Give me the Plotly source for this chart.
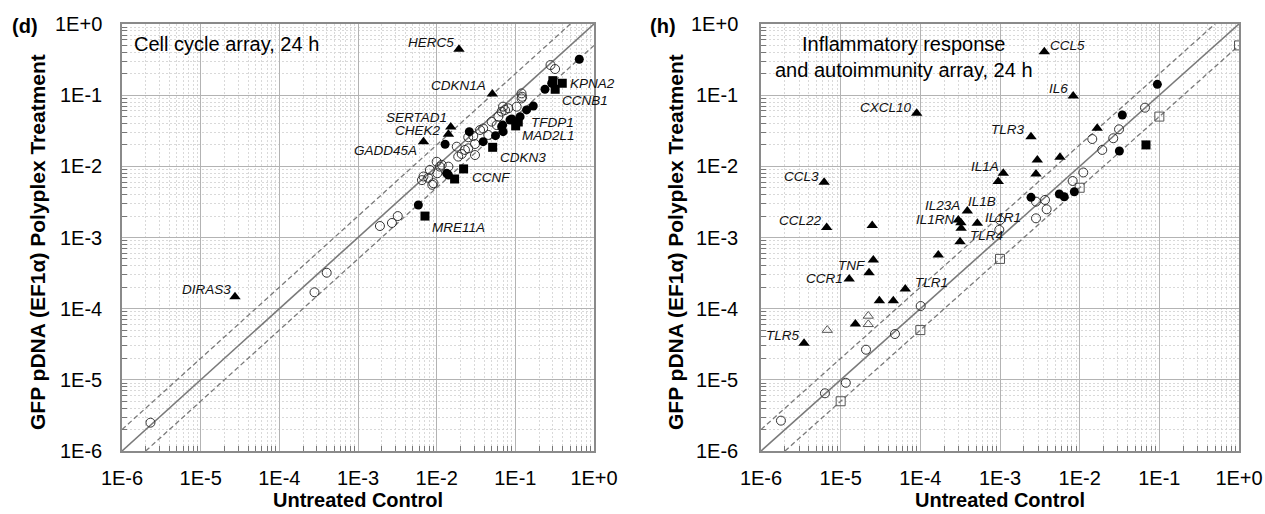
import numpy as np
import plotly.graph_objects as go

# ---------------- Panel (d): Cell cycle array, 24 h ----------------
D_OPEN_X = [2.3e-6, 2.8e-4, 4.0e-4, 1.9e-3, 2.7e-3, 3.2e-3, 6.5e-3, 6.8e-3, 7.8e-3, 8.2e-3,
            8.8e-3, 9.1e-3, 1.0e-2, 1.02e-2, 1.1e-2, 1.16e-2, 1.41e-2, 1.8e-2, 1.88e-2, 2.08e-2,
            2.29e-2, 2.52e-2, 2.52e-2, 2.92e-2, 3.07e-2, 3.07e-2, 3.56e-2, 3.9e-2, 4.53e-2, 5.0e-2,
            5.8e-2, 6.08e-2, 6.7e-2, 6.97e-2, 7.4e-2, 8.15e-2, 1.04e-1, 1.2e-1, 1.2e-1, 1.22e-1,
            2.8e-1, 3.2e-1]
D_OPEN_Y = [2.5e-6, 1.7e-4, 3.2e-4, 1.45e-3, 1.6e-3, 2.0e-3, 6.4e-3, 7.2e-3, 6.9e-3, 8.9e-3,
            5.5e-3, 5.8e-3, 1.16e-2, 8.0e-3, 9.9e-3, 1.05e-2, 9.9e-3, 1.89e-2, 1.37e-2, 1.49e-2,
            1.7e-2, 2.56e-2, 1.79e-2, 2.67e-2, 2.06e-2, 1.44e-2, 3.24e-2, 3.4e-2, 2.76e-2, 4.24e-2,
            3.8e-2, 4.99e-2, 5.86e-2, 6.9e-2, 6.19e-2, 6.54e-2, 6.89e-2, 1.06e-1, 9.0e-2, 9.5e-2,
            2.65e-1, 2.33e-1]

D_FILLED_X = [5.85e-3, 1.28e-2, 1.34e-2, 1.41e-2, 2.6e-2, 3.9e-2, 5.6e-2, 6.7e-2, 7.0e-2, 6.9e-2,
              8.55e-2, 9.0e-2, 1.15e-1, 1.39e-1, 1.69e-1, 2.38e-1, 2.9e-1, 6.5e-1]
D_FILLED_Y = [2.86e-3, 2.04e-2, 8.0e-3, 7.55e-3, 3.07e-2, 2.22e-2, 2.7e-2, 3.6e-2, 3.07e-2, 3.8e-2,
              4.48e-2, 4.63e-2, 4.99e-2, 6.2e-2, 7.05e-2, 1.21e-1, 1.47e-1, 3.2e-1]

D_SQ_X = [3.95e-1, 3.21e-1, 3.0e-1, 1.09e-1, 1.01e-1, 5.15e-2, 2.2e-2, 1.69e-2, 7.1e-3]
D_SQ_Y = [1.47e-1, 1.21e-1, 1.6e-1, 4.2e-2, 3.7e-2, 1.85e-2, 9.2e-3, 6.64e-3, 2.0e-3]
D_SQ_LABEL = ["KPNA2", "CCNB1", "", "TFDP1", "MAD2L1", "CDKN3", "CCNF", "", "MRE11A"]

D_TRI_X = [1.92e-2, 5.1e-2, 1.51e-2, 1.41e-2, 6.8e-3, 2.73e-5]
D_TRI_Y = [4.4e-1, 1.04e-1, 3.57e-2, 2.82e-2, 2.22e-2, 1.47e-4]
D_TRI_LABEL = ["HERC5", "CDKN1A", "SERTAD1", "CHEK2", "GADD45A", "DIRAS3"]

# ---------------- Panel (h): Inflammatory response and autoimmunity array, 24 h ----------------
H_OPEN_X = [1.78e-6, 6.35e-6, 1.16e-5, 2.08e-5, 4.8e-5, 1.01e-4, 1.0e-3, 9.8e-4, 2.83e-3, 3.67e-3,
            3.85e-3, 2.83e-3, 8.17e-3, 1.11e-2, 1.44e-2, 1.92e-2, 2.64e-2, 3.12e-2, 6.6e-2]
H_OPEN_Y = [2.67e-6, 6.47e-6, 9.1e-6, 2.65e-5, 4.4e-5, 1.09e-4, 1.76e-3, 1.28e-3, 3.19e-3, 3.37e-3,
            2.49e-3, 1.86e-3, 6.22e-3, 8.2e-3, 2.42e-2, 1.7e-2, 2.48e-2, 3.31e-2, 6.67e-2]

H_FILLED_X = [2.45e-3, 5.55e-3, 6.4e-3, 8.57e-3, 3.15e-2, 3.43e-2, 9.44e-2]
H_FILLED_Y = [3.67e-3, 4.08e-3, 3.74e-3, 4.4e-3, 1.64e-2, 5.26e-2, 1.42e-1]

H_SQ_X = [6.8e-2]
H_SQ_Y = [2.0e-2]

H_OSQ_X = [1e-5, 1e-4, 1e-3, 1e-2, 1e-1, 1.0]
H_OSQ_Y = [5e-6, 5e-5, 5e-4, 5e-3, 5e-2, 0.5]

H_TRI_X = [3.6e-3, 8.3e-3, 9.0e-5, 2.45e-3, 1.66e-2, 2.94e-3, 5.66e-3, 2.83e-3, 1.1e-3, 9.5e-4,
           6.2e-6, 6.67e-6, 2.49e-5, 3.89e-4, 3.23e-4, 3.0e-4, 3.25e-4, 5.19e-4, 3.15e-4, 1.68e-4,
           2.27e-5, 2.57e-5, 1.28e-5, 6.47e-5, 3.06e-5, 4.58e-5, 1.53e-5, 3.47e-6]
H_TRI_Y = [4.08e-1, 9.73e-2, 5.56e-2, 2.61e-2, 3.42e-2, 1.23e-2, 1.34e-2, 7.8e-3, 8.0e-3, 6.1e-3,
           5.97e-3, 1.38e-3, 1.47e-3, 2.36e-3, 1.61e-3, 1.76e-3, 1.35e-3, 1.58e-3, 8.7e-4, 5.68e-4,
           3.2e-4, 4.83e-4, 2.61e-4, 1.89e-4, 1.29e-4, 1.29e-4, 6.1e-5, 3.26e-5]
H_TRI_LABEL = ["CCL5", "IL6", "CXCL10", "TLR3", "", "", "", "", "IL1A", "",
               "CCL3", "CCL22", "", "IL1B", "IL23A", "IL1RN", "", "IL1R1", "TLR4", "",
               "TNF", "", "CCR1", "TLR1", "", "", "", "TLR5"]

H_OTRI_X = [6.79e-6, 2.22e-5, 2.22e-5]
H_OTRI_Y = [5.0e-5, 7.9e-5, 6.03e-5]

FOLD = 2.0
TICK_EXP = [-6, -5, -4, -3, -2, -1, 0]
TICK_TEXT = ["1E-6", "1E-5", "1E-4", "1E-3", "1E-2", "1E-1", "1E+0"]

# label placement: (anchor side, x shift px, y shift px)
LABEL_POS = {
    "HERC5": ("right", -3, 7), "CDKN1A": ("right", -4, 8), "SERTAD1": ("right", -2, 10),
    "CHEK2": ("right", -5, 4), "GADD45A": ("right", -4, -9), "DIRAS3": ("right", -2, 7),
    "KPNA2": ("left", 6, 0), "CCNB1": ("left", 5, -11), "TFDP1": ("left", 11, -1),
    "MAD2L1": ("left", 4, -10), "CDKN3": ("left", 5, -10), "CCNF": ("left", 6, -9),
    "MRE11A": ("left", 5, -11),
    "CCL5": ("left", 4, 6), "IL6": ("right", -3, 8), "CXCL10": ("right", -3, 6),
    "TLR3": ("right", -4, 7), "IL1A": ("right", -2, 7), "CCL3": ("right", -3, 6),
    "CCL22": ("right", -3, 7), "IL23A": ("right", 1, 17), "IL1RN": ("right", -1, 1),
    "IL1B": ("left", -1, 9), "IL1R1": ("left", 6, 6), "TLR4": ("left", 8, 6),
    "TNF": ("right", -2, 7), "CCR1": ("right", -4, 1), "TLR1": ("left", 8, 6),
    "TLR5": ("right", -2, 8),
}

FONT = "Liberation Sans, Arial, Helvetica, sans-serif"
W, H = 1265, 514
LINE_C = "#7a7a7a"


def px(x):
    return x / W


def py(y):
    return 1 - y / H


fig = go.Figure()


def add_panel(xa, ya, series, labels):
    lo, hi = 10.0 ** TICK_EXP[0], 10.0 ** TICK_EXP[-1]
    fig.add_trace(go.Scatter(x=[lo, hi], y=[lo, hi], mode="lines", xaxis=xa, yaxis=ya,
                             line=dict(color=LINE_C, width=1.6), hoverinfo="skip", showlegend=False))
    fig.add_trace(go.Scatter(x=[lo, hi / FOLD], y=[lo * FOLD, hi], mode="lines", xaxis=xa, yaxis=ya,
                             line=dict(color=LINE_C, width=1.3, dash="5px,3px"), hoverinfo="skip",
                             showlegend=False))
    fig.add_trace(go.Scatter(x=[lo * FOLD, hi], y=[lo, hi / FOLD], mode="lines", xaxis=xa, yaxis=ya,
                             line=dict(color=LINE_C, width=1.3, dash="5px,3px"), hoverinfo="skip",
                             showlegend=False))
    for xs, ys, marker in series:
        fig.add_trace(go.Scatter(x=xs, y=ys, mode="markers", xaxis=xa, yaxis=ya, marker=marker,
                                 hoverinfo="skip", showlegend=False))
    xref = "x" if xa == "x" else "x2"
    yref = "y" if ya == "y" else "y2"
    for xs, ys, names in labels:
        for xv, yv, nm in zip(xs, ys, names):
            if not nm:
                continue
            side, dx, dy = LABEL_POS[nm]
            fig.add_annotation(x=np.log10(xv), y=np.log10(yv), xref=xref, yref=yref,
                               text="<i>" + nm + "</i>", showarrow=False, xanchor=side, yanchor="middle",
                               xshift=dx, yshift=dy, font=dict(family=FONT, size=13.5, color="#111"))


OPEN_C = dict(symbol="circle-open", size=9, color="#333", line=dict(width=1))
FILL_C = dict(symbol="circle", size=9, color="black")
FILL_S = dict(symbol="square", size=9, color="black")
FILL_T = dict(symbol="triangle-up", size=10, color="black")
OPEN_S = dict(symbol="square-open", size=9, color="#555", line=dict(width=1))
OPEN_T = dict(symbol="triangle-up-open", size=9, color="#555", line=dict(width=1))

add_panel("x", "y",
          [(D_OPEN_X, D_OPEN_Y, OPEN_C), (D_FILLED_X, D_FILLED_Y, FILL_C),
           (D_SQ_X, D_SQ_Y, FILL_S), (D_TRI_X, D_TRI_Y, FILL_T)],
          [(D_SQ_X, D_SQ_Y, D_SQ_LABEL), (D_TRI_X, D_TRI_Y, D_TRI_LABEL)])

add_panel("x2", "y2",
          [(H_OSQ_X, H_OSQ_Y, OPEN_S), (H_OPEN_X, H_OPEN_Y, OPEN_C), (H_FILLED_X, H_FILLED_Y, FILL_C),
           (H_SQ_X, H_SQ_Y, FILL_S), (H_OTRI_X, H_OTRI_Y, OPEN_T), (H_TRI_X, H_TRI_Y, FILL_T)],
          [(H_TRI_X, H_TRI_Y, H_TRI_LABEL)])

major_vals = [10.0 ** e for e in TICK_EXP]
minor_vals = [m * 10.0 ** e for e in TICK_EXP[:-1] for m in range(2, 10)]


def axis(domain, anchor, standoff):
    return dict(type="log", range=[TICK_EXP[0], TICK_EXP[-1]], domain=domain, anchor=anchor,
                tickmode="array", tickvals=major_vals, ticktext=TICK_TEXT, ticks="",
                showline=True, mirror=True, linecolor="#8a8a8a", linewidth=1.5,
                showgrid=True, gridcolor="#b3b3b3", gridwidth=1.3, zeroline=False,
                minor=dict(tickmode="array", tickvals=minor_vals, ticks="inside", ticklen=5,
                           tickcolor="#777", tickwidth=1, showgrid=True, gridcolor="#d9d9d9",
                           griddash="2px,2px", gridwidth=1),
                tickfont=dict(family=FONT, size=20, color="black"), ticklabeloverflow="allow",
                automargin=False, fixedrange=True, ticklabelstandoff=standoff)


XD1 = [px(122), px(594)]
XD2 = [px(761), px(1239)]
YD = [py(451), py(24)]

fig.update_layout(
    width=W, height=H, margin=dict(l=0, r=0, t=0, b=0),
    paper_bgcolor="white", plot_bgcolor="white",
    xaxis=axis(XD1, "y", 8), yaxis=axis(YD, "x", 14),
    xaxis2=axis(XD2, "y2", 8), yaxis2=axis(YD, "x2", 17),
    showlegend=False,
)

TXT = dict(family=FONT, color="black")
fig.add_annotation(x=px(25), y=py(26), xref="paper", yref="paper", text="<b>(d)</b>", showarrow=False,
                   xanchor="center", yanchor="middle", font=dict(size=20, **TXT))
fig.add_annotation(x=px(663), y=py(26), xref="paper", yref="paper", text="<b>(h)</b>", showarrow=False,
                   xanchor="center", yanchor="middle", font=dict(size=20, **TXT))
fig.add_annotation(x=px(132), y=py(44), xref="paper", yref="paper", text="Cell cycle array, 24 h",
                   showarrow=False, xanchor="left", yanchor="middle", font=dict(size=20, **TXT))
fig.add_annotation(x=px(904), y=py(57), xref="paper", yref="paper",
                   text="Inflammatory response<br>and autoimmunity array, 24 h",
                   showarrow=False, xanchor="center", yanchor="middle", align="center",
                   font=dict(size=20, **TXT))
for cx in (358, 1000):
    fig.add_annotation(x=px(cx), y=py(500), xref="paper", yref="paper", text="<b>Untreated Control</b>",
                       showarrow=False, xanchor="center", yanchor="middle", font=dict(size=20, **TXT))
for cx in (37, 675):
    fig.add_annotation(x=px(cx), y=py(242), xref="paper", yref="paper",
                       text="<b>GFP pDNA (EF1α) Polyplex Treatment</b>", textangle=-90,
                       showarrow=False, xanchor="center", yanchor="middle", font=dict(size=21, **TXT))

# remove the default page margin so the 1265x514 figure fills the window exactly
fig.write_html("out.html", config={"displayModeBar": False},
               post_script="document.body.style.margin='0';document.body.style.overflow='hidden';")
